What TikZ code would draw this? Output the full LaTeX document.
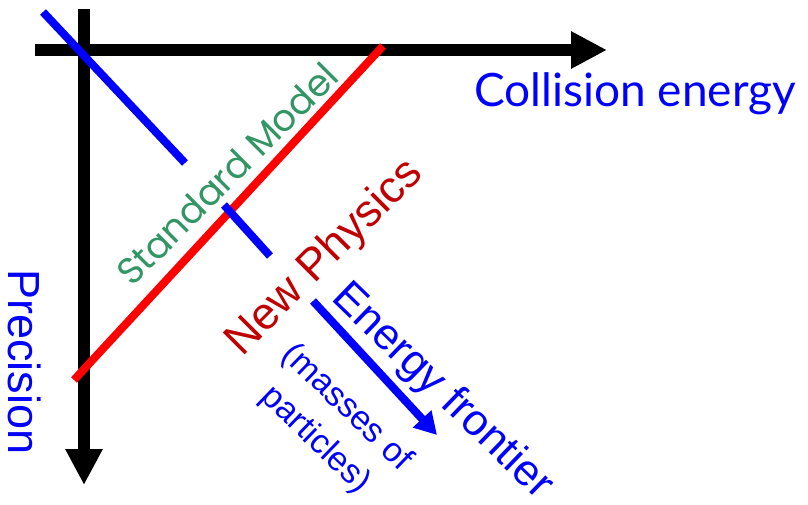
\documentclass[tikz,border=0pt]{standalone}
\usepackage{fontspec}
\setmainfont{Liberation Sans}
\newfontfamily\smfont{Poppins}
\newfontfamily\cefont{Lato}
\usetikzlibrary{arrows.meta}
\definecolor{lineblue}{RGB}{0,0,255}
\definecolor{linered}{RGB}{255,0,0}
\definecolor{npred}{RGB}{192,0,0}
\definecolor{smgreen}{RGB}{50,150,100}
\begin{document}
\begin{tikzpicture}[x=1pt,y=-1pt,
  axis/.style={line width=12pt,draw=black,-{Triangle[length=36pt,width=35pt]}},
  bluebar/.style={line width=8pt,draw=lineblue},
  redbar/.style={line width=8pt,draw=linered},
  bluearrow/.style={line width=8pt,draw=lineblue,-{Triangle[length=22pt,width=24pt]}},
  lbl/.style={inner sep=0pt,align=center}]
\useasboundingbox (0,0) rectangle (808,505);
\coordinate (xs) at (35,50);
\coordinate (xe) at (607,50);
\coordinate (ys) at (84,9);
\coordinate (ye) at (84,485);
\coordinate (b1s) at (43,12);
\coordinate (b1e) at (185,163);
\coordinate (rs) at (74,380);
\coordinate (re) at (383,46);
\coordinate (b2s) at (224,205);
\coordinate (b2e) at (270,256);
\coordinate (as) at (313,301);
\coordinate (ae) at (437,435);
\draw[axis] (xs) -- (xe);
\draw[axis] (ys) -- (ye);
\draw[bluebar] (b1s) -- (b1e);
\draw[redbar] (rs) -- (re);
\draw[bluebar] (b2s) -- (b2e);
\draw[bluearrow] (as) -- (ae);
\node[lbl,anchor=base west,text=lineblue,font=\cefont\fontsize{46}{52}\selectfont] (ce) at (474,107) {Collision energy};
\node[lbl,rotate=-90,text=lineblue,font=\fontsize{45}{54}\selectfont] (pr) at (25,362) {Precision};
\node[lbl,rotate=45,text=smgreen,font=\smfont\fontsize{37}{44}\selectfont] (sm) at (227,174) {Standard Model};
\node[lbl,rotate=45,text=npred,font=\fontsize{45}{54}\selectfont] (np) at (325,258) {New Physics};
\node[lbl,rotate=-44,text=lineblue,font=\fontsize{44}{54}\selectfont] (ef) at (442,392) {Energy frontier};
\node[lbl,rotate=-44,text=lineblue,font=\fontsize{34}{45}\selectfont] (mp) at (331,424) {(masses of\\particles)};
\end{tikzpicture}
\end{document}
